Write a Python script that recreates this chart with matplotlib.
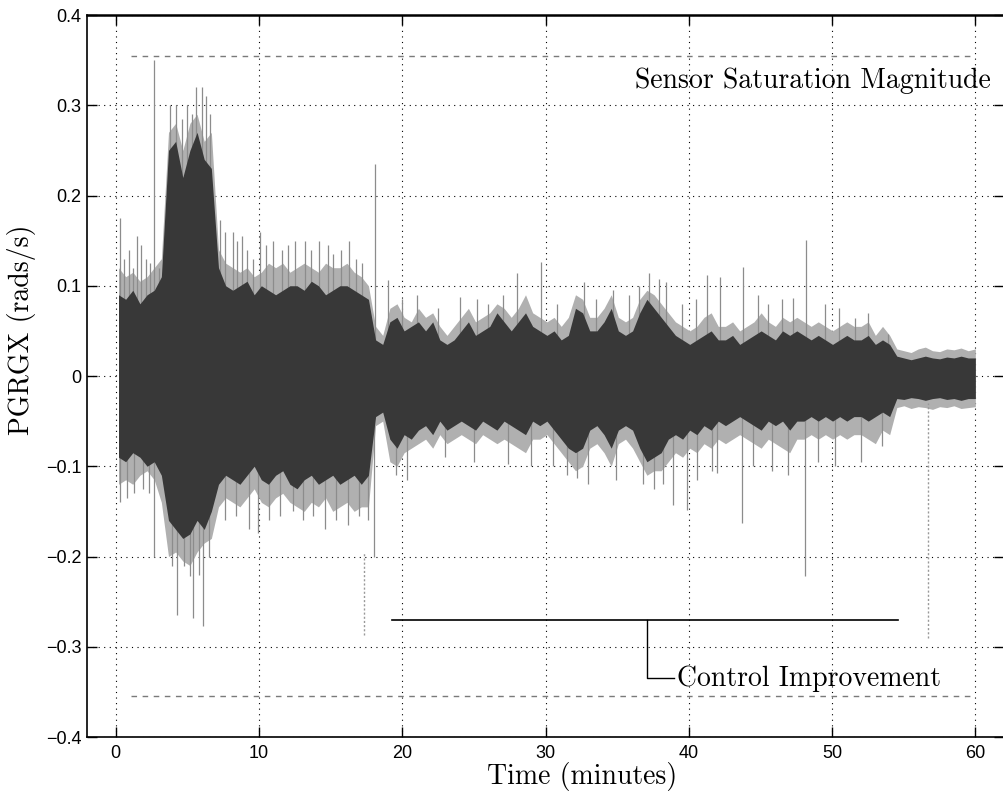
import numpy as np
import matplotlib
matplotlib.use("Agg")
import matplotlib.pyplot as plt

# sample grid of the envelope readings (minutes)
times = np.linspace(0.2, 60.0, 121)

# dense dark body of the signal, upper and lower edge (rads/s)
core_top = [0.09, 0.085, 0.095, 0.08, 0.09, 0.095,
            0.11,
            0.25, 0.26, 0.22, 0.25, 0.27, 0.24, 0.23,
            0.12,
            0.10, 0.095, 0.10, 0.105, 0.09, 0.10, 0.095, 0.09, 0.095, 0.10, 0.10,
            0.095, 0.105, 0.10, 0.09, 0.095, 0.10, 0.10, 0.095, 0.09, 0.085,
            0.04, 0.035,
            0.06, 0.065, 0.05, 0.055, 0.06, 0.05,
            0.06, 0.04, 0.035, 0.04,
            0.05, 0.06, 0.045, 0.05, 0.055, 0.07, 0.06, 0.05,
            0.06, 0.07, 0.055, 0.05, 0.045, 0.05, 0.04, 0.045,
            0.075, 0.07, 0.05, 0.05, 0.06, 0.075,
            0.05, 0.045, 0.05, 0.07,
            0.085, 0.075, 0.065, 0.055,
            0.045, 0.04, 0.035, 0.04,
            0.045, 0.05, 0.04, 0.04, 0.045, 0.035,
            0.04, 0.045, 0.05, 0.045, 0.04, 0.05, 0.045, 0.05,
            0.045, 0.04, 0.045, 0.04, 0.035, 0.04, 0.045, 0.04,
            0.04, 0.045, 0.035, 0.04, 0.035,
            0.022, 0.02, 0.018, 0.02, 0.022, 0.02, 0.019, 0.021, 0.02, 0.022, 0.02, 0.02]
core_bot = [-0.09, -0.095, -0.085, -0.09, -0.10, -0.095,
            -0.11,
            -0.16, -0.17, -0.18, -0.175, -0.16, -0.17, -0.15,
            -0.12,
            -0.11, -0.115, -0.12, -0.11, -0.10, -0.115, -0.12, -0.11, -0.105, -0.12, -0.125,
            -0.115, -0.11, -0.12, -0.115, -0.11, -0.12, -0.115, -0.11, -0.12, -0.11,
            -0.045, -0.04,
            -0.07, -0.08, -0.065, -0.07, -0.06, -0.055,
            -0.065, -0.05, -0.06, -0.055,
            -0.05, -0.055, -0.06, -0.05, -0.055, -0.06, -0.05, -0.055,
            -0.06, -0.065, -0.05, -0.055, -0.05, -0.06, -0.07, -0.08,
            -0.085, -0.08, -0.06, -0.055, -0.065, -0.08,
            -0.06, -0.055, -0.06, -0.08,
            -0.095, -0.09, -0.085, -0.07,
            -0.065, -0.07, -0.06, -0.065,
            -0.055, -0.06, -0.05, -0.055, -0.05, -0.045,
            -0.05, -0.055, -0.06, -0.05, -0.055, -0.05, -0.06, -0.05,
            -0.05, -0.045, -0.05, -0.045, -0.05, -0.045, -0.05, -0.045,
            -0.045, -0.05, -0.045, -0.04, -0.045,
            -0.025, -0.026, -0.024, -0.025, -0.027, -0.025, -0.024, -0.026, -0.025, -0.027, -0.025, -0.025]

# lighter hairy fringe around the body
fringe_top = [0.12, 0.11, 0.115, 0.105, 0.11, 0.12,
              0.13,
              0.27, 0.28, 0.25, 0.28, 0.29, 0.26, 0.27,
              0.14,
              0.125, 0.12, 0.115, 0.12, 0.11, 0.115, 0.125, 0.12, 0.125, 0.115, 0.12,
              0.125, 0.12, 0.115, 0.125, 0.12, 0.12, 0.125, 0.115, 0.11, 0.10,
              0.055, 0.045,
              0.075, 0.08, 0.065, 0.06, 0.075, 0.065,
              0.07, 0.055, 0.045, 0.055,
              0.065, 0.075, 0.06, 0.065, 0.07, 0.08, 0.075, 0.065,
              0.075, 0.09, 0.07, 0.065, 0.06, 0.065, 0.055, 0.065,
              0.09, 0.085, 0.065, 0.065, 0.075, 0.09,
              0.065, 0.06, 0.065, 0.085,
              0.095, 0.09, 0.08, 0.07,
              0.06, 0.055, 0.05, 0.055,
              0.065, 0.07, 0.055, 0.055, 0.06, 0.05,
              0.055, 0.06, 0.07, 0.06, 0.055, 0.065, 0.06, 0.065,
              0.06, 0.055, 0.06, 0.055, 0.05, 0.055, 0.06, 0.055,
              0.055, 0.06, 0.045, 0.055, 0.045,
              0.03, 0.028, 0.026, 0.03, 0.032, 0.028, 0.027, 0.03, 0.029, 0.031, 0.028, 0.03]
fringe_bot = [-0.12, -0.115, -0.12, -0.11, -0.105, -0.115,
              -0.14,
              -0.20, -0.195, -0.205, -0.21, -0.195, -0.185, -0.18,
              -0.145,
              -0.135, -0.14, -0.145, -0.135, -0.125, -0.14, -0.145, -0.135, -0.13, -0.14, -0.145,
              -0.15, -0.14, -0.145, -0.135, -0.15, -0.145, -0.14, -0.15, -0.145, -0.145,
              -0.055, -0.05,
              -0.095, -0.10, -0.085, -0.08, -0.075, -0.07,
              -0.08, -0.065, -0.075, -0.07,
              -0.065, -0.07, -0.075, -0.065, -0.07, -0.075, -0.07, -0.075,
              -0.08, -0.085, -0.07, -0.07, -0.065, -0.075, -0.085, -0.095,
              -0.105, -0.10, -0.08, -0.075, -0.085, -0.10,
              -0.075, -0.07, -0.08, -0.095,
              -0.11, -0.105, -0.105, -0.095,
              -0.085, -0.09, -0.08, -0.085,
              -0.075, -0.08, -0.07, -0.075, -0.07, -0.065,
              -0.07, -0.075, -0.08, -0.07, -0.075, -0.08, -0.085, -0.07,
              -0.07, -0.065, -0.07, -0.065, -0.07, -0.065, -0.07, -0.065,
              -0.065, -0.07, -0.075, -0.06, -0.065,
              -0.035, -0.033, -0.036, -0.034, -0.035, -0.037, -0.034, -0.035, -0.033, -0.036, -0.035, -0.034]

# isolated spikes above zero (time, peak)
spike_up_t = [0.3, 0.6, 0.9, 1.2, 1.5, 1.8, 2.1, 2.4, 2.65, 3.0,
              3.8, 4.2, 4.6, 5.0, 5.3, 5.6, 6.0, 6.3, 6.6,
              7.3, 7.6, 8.2, 8.5, 8.8, 9.2, 9.6, 10.1, 10.5, 11.0, 11.6, 12.0,
              12.5, 13.2, 13.6, 14.2, 14.8, 15.2, 15.7, 16.3, 16.8, 17.2, 18.1,
              19.0, 20.0, 21.0, 22.5, 24.0, 25.2, 26.0, 27.0, 28.0, 29.7, 30.8,
              32.7, 33.5, 34.7, 35.8, 36.5, 37.2, 37.9, 38.4, 39.5, 40.5, 41.3,
              42.2, 43.8, 44.8, 45.5, 46.5, 47.3, 48.2, 49.5, 50.5, 51.6, 52.5, 53.9]
spike_up_v = [0.175, 0.13, 0.14, 0.12, 0.155, 0.145, 0.13, 0.125, 0.35, 0.12,
              0.30, 0.30, 0.285, 0.30, 0.29, 0.32, 0.32, 0.31, 0.29,
              0.173, 0.16, 0.16, 0.15, 0.155, 0.14, 0.13, 0.16, 0.145, 0.15, 0.14, 0.145,
              0.15, 0.15, 0.14, 0.15, 0.145, 0.135, 0.14, 0.15, 0.13, 0.125, 0.235,
              0.106, 0.085, 0.09, 0.075, 0.088, 0.085, 0.08, 0.09, 0.114, 0.126, 0.08,
              0.104, 0.085, 0.095, 0.09, 0.10, 0.114, 0.108, 0.104, 0.08, 0.085, 0.112,
              0.11, 0.121, 0.09, 0.08, 0.085, 0.086, 0.151, 0.08, 0.075, 0.064, 0.07, 0.047]

# isolated spikes below zero (time, trough)
spike_dn_t = [0.3, 0.8, 1.3, 1.9, 2.3, 2.65, 3.9, 4.3, 4.8, 5.2, 5.4, 5.8, 6.1, 6.5,
              7.6, 8.4, 9.3, 9.9, 10.7, 11.5, 12.4, 13.1, 13.8, 14.6, 15.4, 16.2,
              17.0, 17.6, 18.0, 19.6, 20.3, 23.0, 25.0, 27.4, 29.0, 30.5, 31.5,
              32.2, 33.0, 34.9, 36.8, 37.6, 38.2, 38.9, 39.9, 40.6, 41.6, 42.0,
              43.7, 44.5, 45.8, 46.9, 48.1, 49.0, 50.2, 52.0, 53.5]
spike_dn_v = [-0.14, -0.135, -0.13, -0.125, -0.13, -0.20, -0.21, -0.265, -0.21, -0.222,
              -0.268, -0.22, -0.277, -0.20,
              -0.16, -0.155, -0.17, -0.174, -0.16, -0.155, -0.15, -0.16, -0.155, -0.17,
              -0.16, -0.165, -0.155, -0.16, -0.20, -0.11, -0.115, -0.09, -0.095,
              -0.097, -0.10, -0.10, -0.11, -0.113, -0.12, -0.115, -0.12, -0.125,
              -0.12, -0.143, -0.149, -0.115, -0.105, -0.108, -0.163, -0.10, -0.105,
              -0.11, -0.222, -0.095, -0.10, -0.095, -0.078]

# faint dotted marker lines (time, from, to)
marker_t = [17.3, 56.7]
marker_lo = [-0.287, -0.29]
marker_hi = [-0.195, -0.03]

saturation = 0.355
improve_level = -0.27
improve_span = [19.3, 54.6]

fig = plt.figure(figsize=(10.04, 7.98), dpi=100)
ax = fig.add_axes([87 / 1004, 61 / 798, 917 / 1004, 722 / 798])

ax.fill_between(times, fringe_bot, fringe_top, color="#b0b0b0", lw=0, zorder=2)
ax.vlines(spike_up_t, 0, spike_up_v, color="#8c8c8c", lw=0.9, zorder=2)
ax.vlines(spike_dn_t, spike_dn_v, 0, color="#8c8c8c", lw=0.9, zorder=2)
ax.fill_between(times, core_bot, core_top, color="#383838", lw=0, zorder=3)
for t, lo, hi in zip(marker_t, marker_lo, marker_hi):
    ax.plot([t, t], [lo, hi], color="#999999", lw=1, ls=(0, (1.5, 1.5)), zorder=2)

# sensor saturation limits
ax.hlines([saturation, -saturation], 1.1, 60, colors="#7a7a7a", lw=1,
          linestyles=[(0, (4, 4))], zorder=4)
ax.text(61.1, 0.327, "Sensor Saturation Magnitude", ha="right", va="center",
        family="cmr10", fontsize=20, zorder=5)

# control improvement bracket
ax.plot(improve_span, [improve_level, improve_level], color="black", lw=1.2, zorder=4)
ax.plot([37.1, 37.1, 39.0], [improve_level, -0.335, -0.335], color="black", lw=1, zorder=4)
ax.text(39.2, -0.335, "Control Improvement", ha="left", va="center",
        family="cmr10", fontsize=20, zorder=5)

ax.set_xlim(-2, 62)
ax.set_ylim(-0.4, 0.4)
ax.set_xticks(range(0, 61, 10))
ax.set_yticks(np.arange(-0.4, 0.41, 0.1))
ax.set_xticklabels([str(v) for v in range(0, 61, 10)])
ax.set_yticklabels(["\u22120.4", "\u22120.3", "\u22120.2", "\u22120.1", "0",
                    "0.1", "0.2", "0.3", "0.4"])
for lab in ax.get_xticklabels() + ax.get_yticklabels():
    lab.set_family("Liberation Sans")
    lab.set_fontsize(13)
ax.tick_params(direction="in", length=7, width=1, top=True, right=True)
ax.tick_params(axis="x", pad=6)
ax.tick_params(axis="y", pad=4)

ax.grid(True, color="black", lw=0.8, ls=(0, (1, 4)))
ax.set_axisbelow(True)
for s in ax.spines.values():
    s.set_linewidth(1.2)
    s.set_zorder(6)
ax.spines["top"].set_linewidth(1.8)

ax.set_xlabel("Time (minutes)", family="cmr10", fontsize=20)
ax.set_ylabel("PGRGX (rads/s)", family="cmr10", fontsize=20)
ax.xaxis.set_label_coords(0.54, -0.034)
ax.yaxis.set_label_coords(-0.056, 0.564)

fig.savefig("out.png", dpi=100)
